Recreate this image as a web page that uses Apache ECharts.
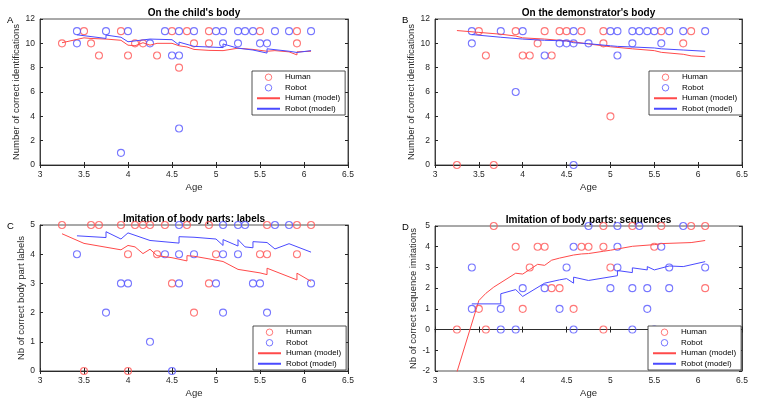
<!DOCTYPE html>
<html>
<head>
<meta charset="utf-8">
<script src="https://cdn.jsdelivr.net/npm/echarts@6/dist/echarts.min.js"></script>
<style>
  html, body { margin: 0; padding: 0; background: #fff; }
  #chart { width: 758px; height: 401px; }
</style>
</head>
<body>
<div id="chart"></div>
<script>
// panel titles / letters
const panelTitles = ["On the child's body", "On the demonstrator's body",
  'Imitation of body parts: labels', 'Imitation of body parts: sequences'];
const panelLetters = ['A', 'B', 'C', 'D'];
const yNames = ['Number of correct identifications', 'Number of correct identifications',
  'Nb of correct body part labels', 'Nb of correct sequence imitations'];
const yRanges = [[0, 12, 2], [0, 12, 2], [0, 5, 1], [-2, 5, 1]];
const legendNames = ['Human', 'Robot', 'Human (model)', 'Robot (model)'];

// A: on the child's body
const childHuman = [[3.25,10],[3.5,11],[3.58,10],[3.67,9],[3.92,11],[4.0,9],[4.08,10],[4.17,10],
  [4.33,9],[4.5,11],[4.58,8],[4.67,11],[4.75,10],[4.92,11],[4.92,10],[5.5,11],[5.92,11],[5.92,10]];
const childRobot = [[3.42,11],[3.42,10],[3.75,11],[3.92,1],[4.0,11],[4.25,10],[4.42,11],[4.5,9],
  [4.58,11],[4.58,9],[4.58,3],[4.75,11],[5.0,11],[5.08,11],[5.08,10],[5.25,11],[5.25,10],[5.33,11],
  [5.42,11],[5.5,10],[5.58,10],[5.67,11],[5.83,11],[6.08,11]];
const childHumanModel = [[3.25,10.05],[3.5,10.45],[3.58,10.4],[3.75,10.35],[3.92,10.25],[4.0,9.85],
  [4.08,9.8],[4.17,10.05],[4.25,9.85],[4.33,10.0],[4.5,10.0],[4.58,9.8],[4.67,9.7],[4.75,9.5],
  [4.92,9.42],[5.08,9.4],[5.25,9.6],[5.42,9.5],[5.58,9.35],[5.67,9.4],[5.83,9.3],[5.92,9.05],
  [5.92,9.3],[6.08,9.35]];
const childRobotModel = [[3.42,10.7],[3.75,10.4],[3.75,10.68],[3.92,10.5],[4.0,10.13],[4.25,10.35],
  [4.5,10.3],[4.58,9.86],[4.58,10.1],[4.75,9.75],[5.08,9.65],[5.08,9.95],[5.25,9.6],[5.25,9.75],
  [5.42,9.45],[5.58,9.2],[5.58,9.55],[5.83,9.35],[5.92,9.25],[6.08,9.4]];

// B: on the demonstrator's body
const demoHuman = [[3.25,0],[3.5,11],[3.58,9],[3.67,0],[3.92,11],[4.0,9],[4.08,9],[4.17,10],[4.25,11],
  [4.33,9],[4.42,11],[4.5,11],[4.67,11],[4.92,11],[4.92,10],[5.0,4],[5.58,11],[5.83,10],[5.92,11]];
const demoRobot = [[3.42,11],[3.42,10],[3.75,11],[3.92,6],[4.0,11],[4.25,9],[4.42,10],[4.5,10],
  [4.58,11],[4.58,10],[4.58,0],[4.75,10],[5.0,11],[5.08,11],[5.08,9],[5.25,11],[5.25,10],[5.33,11],
  [5.42,11],[5.5,11],[5.58,10],[5.67,11],[5.83,11],[6.08,11]];
const demoHumanModel = [[3.25,11.05],[3.5,10.9],[3.75,10.75],[3.92,10.6],[4.0,10.45],[4.25,10.35],
  [4.5,10.2],[4.75,9.95],[5.0,9.72],[5.25,9.55],[5.5,9.4],[5.58,9.26],[5.83,9.1],[5.92,8.97],[6.08,8.9]];
const demoRobotModel = [[3.42,10.72],[3.75,10.5],[4.0,10.35],[4.25,10.25],[4.5,10.2],[4.58,10.05],
  [4.75,9.97],[5.0,9.8],[5.08,9.75],[5.25,9.7],[5.5,9.62],[5.58,9.55],[5.83,9.45],[6.08,9.35]];

// C: imitation of body parts, labels
const labelHuman = [[3.25,5],[3.5,0],[3.58,5],[3.67,5],[3.92,5],[4.0,4],[4.0,0],[4.08,5],[4.17,5],
  [4.25,5],[4.33,4],[4.42,5],[4.5,3],[4.67,5],[4.75,2],[4.92,5],[4.92,3],[5.0,4],[5.5,4],[5.58,5],
  [5.58,4],[5.92,5],[5.92,4],[6.08,5]];
const labelRobot = [[3.42,4],[3.75,2],[3.92,3],[4.0,3],[4.25,1],[4.42,4],[4.5,0],[4.58,5],[4.58,4],
  [4.58,3],[4.75,4],[5.0,3],[5.08,5],[5.08,4],[5.08,2],[5.25,5],[5.25,4],[5.33,5],[5.42,3],[5.5,3],
  [5.58,2],[5.67,5],[5.83,5],[6.08,3]];
const labelHumanModel = [[3.25,4.7],[3.5,4.37],[3.92,4.15],[4.0,4.3],[4.08,4.25],[4.17,4.02],
  [4.25,4.17],[4.33,3.95],[4.5,3.88],[4.67,3.77],[4.67,3.95],[4.75,3.93],[4.92,3.84],[5.08,3.75],
  [5.25,3.48],[5.5,3.36],[5.58,3.3],[5.58,3.52],[5.92,3.12],[5.92,3.35],[6.08,3.07]];
const labelRobotModel = [[3.42,4.63],[3.75,4.57],[3.75,4.77],[3.92,4.52],[4.0,4.73],[4.25,4.47],
  [4.58,4.38],[4.58,4.6],[4.75,4.58],[5.0,4.52],[5.08,4.3],[5.08,4.5],[5.25,4.28],[5.25,4.5],
  [5.33,4.25],[5.42,4.22],[5.42,4.43],[5.58,4.4],[5.67,4.18],[5.83,4.36],[6.08,4.07]];

// D: imitation of body parts, sequences
const seqHuman = [[3.25,0],[3.5,1],[3.58,0],[3.67,5],[3.92,4],[4.0,1],[4.08,3],[4.17,4],[4.25,4],
  [4.33,2],[4.42,2],[4.58,1],[4.67,4],[4.75,4],[4.92,5],[4.92,4],[4.92,0],[5.0,3],[5.25,5],[5.5,4],
  [5.58,5],[5.92,5],[6.08,5],[6.08,2]];
const seqRobot = [[3.42,3],[3.42,1],[3.75,1],[3.75,0],[3.92,0],[4.0,2],[4.25,2],[4.42,1],[4.5,3],
  [4.58,4],[4.58,0],[4.75,5],[5.0,2],[5.08,5],[5.08,4],[5.08,3],[5.25,2],[5.25,0],[5.33,5],[5.42,2],
  [5.42,1],[5.5,0],[5.58,4],[5.67,3],[5.67,2],[5.83,5],[6.08,3]];
const seqHumanModel = [[3.25,-2.05],[3.5,1.4],[3.58,1.75],[3.67,2.05],[3.92,2.72],[4.0,2.68],
  [4.08,2.9],[4.17,3.15],[4.25,3.1],[4.33,3.35],[4.42,3.45],[4.58,3.6],[4.67,3.65],[4.75,3.67],
  [4.92,3.78],[5.0,3.83],[5.25,4.02],[5.5,4.1],[5.58,4.15],[5.92,4.2],[5.92,4.25],[6.08,4.3]];
const seqRobotModel = [[3.42,1.24],[3.75,1.24],[3.75,1.73],[3.92,1.93],[4.0,1.6],[4.25,2.24],
  [4.42,2.4],[4.5,2.46],[4.58,2.24],[4.58,2.53],[4.75,2.37],[5.08,2.6],[5.08,2.85],[5.25,2.75],
  [5.25,2.98],[5.42,2.88],[5.42,3.04],[5.5,2.88],[5.67,3.07],[5.83,3.04],[6.08,3.28]];

const panelData = [
  [childHuman, childRobot, childHumanModel, childRobotModel],
  [demoHuman, demoRobot, demoHumanModel, demoRobotModel],
  [labelHuman, labelRobot, labelHumanModel, labelRobotModel],
  [seqHuman, seqRobot, seqHumanModel, seqRobotModel],
];

const FONT = "'Liberation Sans', Arial, Helvetica, sans-serif";
const AXIS_COLOR = '#262626';
const RED = '#ff5555';
const BLUE = '#5555ff';
const RED_LINE = '#ff4a4a';
const BLUE_LINE = '#4a4aff';

// grid boxes in px
const grids = [
  { left: 40, top: 19, width: 308, height: 146 },
  { left: 435, top: 19, width: 307, height: 146 },
  { left: 40, top: 225, width: 308, height: 146 },
  { left: 435, top: 226, width: 307, height: 145 },
];
const legendPos = [
  { left: 252, top: 71 },
  { left: 649, top: 71 },
  { left: 253, top: 326 },
  { left: 648, top: 326 },
];
const yNameGap = [16, 16, 11, 14];

const chart = echarts.init(document.getElementById('chart'));

const xAxis = [];
const yAxis = [];
const series = [];
const graphic = [];

grids.forEach((g, i) => {
  const base = {
    gridIndex: i,
    type: 'value',
    min: 3,
    max: 6.5,
    interval: 0.5,
    axisLine: { show: true, lineStyle: { color: AXIS_COLOR, width: 0.8 } },
    axisTick: { show: true, inside: true, length: 3, lineStyle: { color: AXIS_COLOR } },
    splitLine: { show: false },
  };
  xAxis.push({
    ...base,
    position: 'bottom',
    name: 'Age',
    nameLocation: 'middle',
    nameGap: 17,
    nameTextStyle: { fontFamily: FONT, fontSize: 9.5, color: AXIS_COLOR },
    axisLabel: { fontFamily: FONT, fontSize: 8.5, color: AXIS_COLOR, margin: 5 },
  });
  xAxis.push({ ...base, position: 'top', axisLabel: { show: false } });

  const [ymin, ymax, step] = yRanges[i];
  const ybase = {
    gridIndex: i,
    type: 'value',
    min: ymin,
    max: ymax,
    interval: step,
    axisLine: { show: true, lineStyle: { color: AXIS_COLOR, width: 0.8 } },
    axisTick: { show: true, inside: true, length: 3, lineStyle: { color: AXIS_COLOR } },
    splitLine: { show: false },
  };
  yAxis.push({
    ...ybase,
    position: 'left',
    name: yNames[i],
    nameLocation: 'middle',
    nameGap: yNameGap[i],
    nameTextStyle: { fontFamily: FONT, fontSize: 9.5, color: AXIS_COLOR },
    axisLabel: { fontFamily: FONT, fontSize: 8.5, color: AXIS_COLOR, margin: 5 },
  });
  yAxis.push({ ...ybase, position: 'right', axisLabel: { show: false } });

  const [hum, rob, humM, robM] = panelData[i];
  const ax = { xAxisIndex: 2 * i, yAxisIndex: 2 * i };
  series.push({
    ...ax, name: 'Human', type: 'scatter', data: hum,
    symbol: 'circle', symbolSize: 7,
    itemStyle: { color: 'rgba(255,255,255,0)', borderColor: RED, borderWidth: 1.1 },
  });
  series.push({
    ...ax, name: 'Robot', type: 'scatter', data: rob,
    symbol: 'circle', symbolSize: 7,
    itemStyle: { color: 'rgba(255,255,255,0)', borderColor: BLUE, borderWidth: 1.1 },
  });
  series.push({
    ...ax, name: 'Human (model)', type: 'line', data: humM,
    symbol: 'none', showSymbol: false, clip: true,
    itemStyle: { color: RED_LINE },
    lineStyle: { color: RED_LINE, width: 1 },
  });
  series.push({
    ...ax, name: 'Robot (model)', type: 'line', data: robM,
    symbol: 'none', showSymbol: false, clip: true,
    itemStyle: { color: BLUE_LINE },
    lineStyle: { color: BLUE_LINE, width: 1 },
  });

  // title and panel letter
  graphic.push({
    type: 'text',
    x: g.left + g.width / 2,
    y: g.top - 6,
    style: {
      text: panelTitles[i],
      font: 'bold 10px ' + FONT,
      fill: '#000',
      align: 'center',
      verticalAlign: 'middle',
      textAlign: 'center',
      textVerticalAlign: 'middle',
    },
  });
  graphic.push({
    type: 'text',
    x: g.left - 33,
    y: g.top + 1,
    style: {
      text: panelLetters[i], font: '9.5px ' + FONT, fill: '#000',
      verticalAlign: 'middle', textVerticalAlign: 'middle',
    },
  });
});

const legend = legendPos.map((p) => ({
  data: [
    { name: 'Human', itemStyle: { borderWidth: 1 } },
    { name: 'Robot', itemStyle: { borderWidth: 1 } },
    { name: 'Human (model)', itemStyle: { opacity: 0 } },
    { name: 'Robot (model)', itemStyle: { opacity: 0 } },
  ],
  orient: 'vertical',
  left: p.left,
  top: p.top,
  itemWidth: 23,
  itemHeight: 6.5,
  itemGap: 2,
  padding: [2, 5, 2, 4],
  borderColor: AXIS_COLOR,
  borderWidth: 0.8,
  borderRadius: 0,
  backgroundColor: '#fff',
  selectedMode: false,
  textStyle: { fontFamily: FONT, fontSize: 8, lineHeight: 8.5, color: '#000' },
}));

const option = {
  animation: false,
  backgroundColor: '#fff',
  grid: grids.map((g) => ({ ...g, show: true, borderColor: AXIS_COLOR, borderWidth: 0.8, backgroundColor: '#fff' })),
  xAxis,
  yAxis,
  legend,
  series,
  graphic,
};

chart.setOption(option);
</script>
</body>
</html>
